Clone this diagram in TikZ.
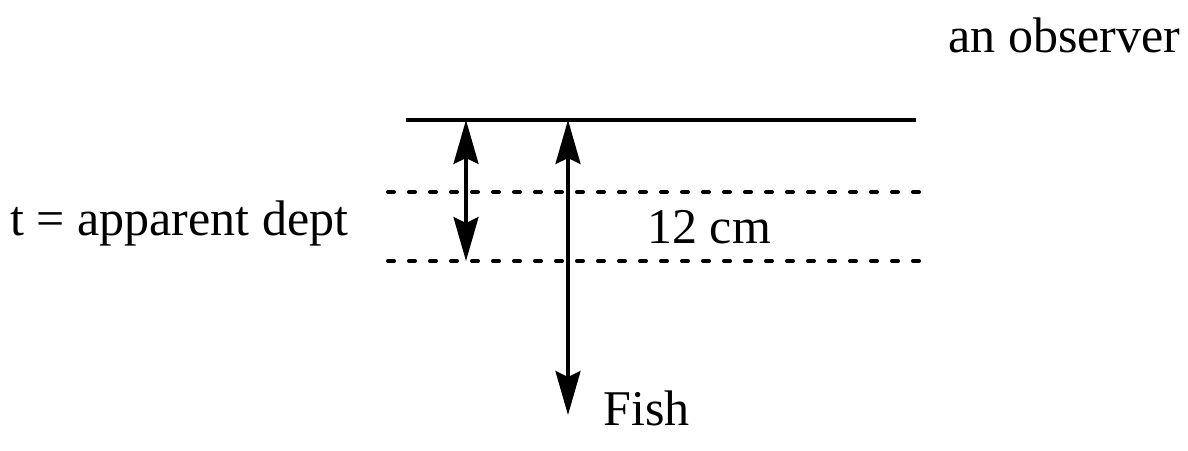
\documentclass[tikz,border=0pt]{standalone}
\usepackage{fontspec}
\setmainfont{Liberation Serif}
\usetikzlibrary{arrows.meta, positioning}

\begin{document}
\begin{tikzpicture}[x=0.5pt, y=-0.5pt,
        surface/.style = {line width=1.8pt},
        level/.style = {line width=2pt, line cap=round, dash pattern=on 3pt off 7.5pt},
        depth/.style = {line width=1.7pt, {Stealth[length=22pt, width=12.5pt, inset=3pt]}-{Stealth[length=22pt, width=12.5pt, inset=3pt]}},
        caption/.style = {inner sep=0pt, anchor=base west, font=\rmfamily\fontsize{25}{30}\selectfont},
    ]
    \useasboundingbox (0,0) rectangle (1188,450);
    %
    \coordinate (surf_l) at (406,120);
    \coordinate (surf_r) at (916,120);
    \coordinate (app_l)  at (388,192);
    \coordinate (app_r)  at (922,192);
    \coordinate (real_l) at (388,261);
    \coordinate (real_r) at (922,261);
    \coordinate (app_top)  at (466,120);
    \coordinate (app_bot)  at (466,261);
    \coordinate (fish_top) at (568,120);
    \coordinate (fish_bot) at (568,415);
    %
    \node[caption] (observer) at (948,52)  {an observer};
    \node[caption] (apparent) at (10,235)  {t = apparent dept};
    \node[caption] (real)     at (647,243) {12 cm};
    \node[caption] (fish)     at (603,425) {Fish};
    %
    \draw[surface] (surf_l) -- (surf_r);
    \draw[level]   (app_l) -- (app_r);
    \draw[level]   (real_l) -- (real_r);
    \draw[depth]   (app_top) -- (app_bot);
    \draw[depth]   (fish_top) -- (fish_bot);
    %
\end{tikzpicture}
\end{document}
